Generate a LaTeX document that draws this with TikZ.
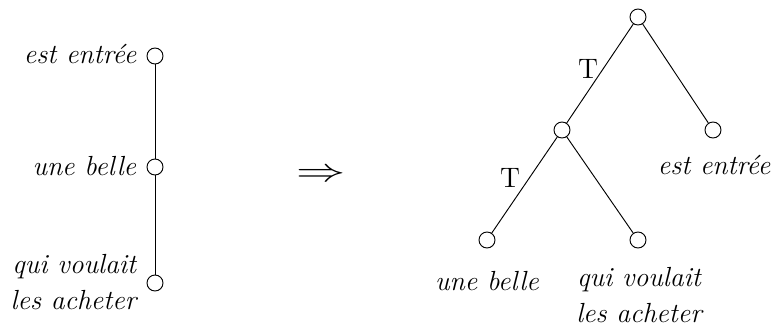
\documentclass[tikz,border=0pt]{standalone}
\usepackage{tikz}
\usetikzlibrary{positioning}

\begin{document}
\begin{tikzpicture}[x=0.015cm,y=-0.015cm]
\tikzstyle{V}=[draw,circle,fill=white,minimum size=0.24cm,inner sep=0pt]
\tikzstyle{W}=[font=\fontsize{11.8}{15.5}\selectfont\itshape,align=right,inner sep=1pt]
\tikzstyle{E}=[draw,thin]
\useasboundingbox (0,0) rectangle (771,326);
% chain on the left
\node[V] (a1) at (155,56) {};
\node[V] (a2) at (155,167) {};
\node[V] (a3) at (155,283) {};
\node[W,anchor=east] (w1) at (139,54) {est entrée};
\node[W,anchor=east] (w2) at (139,166) {une belle};
\node[W,anchor=east] (w3) at (139,282) {qui voulait\\les acheter};
\draw[E] (a1)--(a2); \draw[E] (a2)--(a3);
% arrow
\node (imp) at (321,175) {\scalebox{2.1}[1.4]{$\Rightarrow$}};
% tree on the right
\node[V] (r) at (638,17) {};
\node[V] (m) at (562,130) {};
\node[V] (e) at (713,130) {};
\node[V] (b) at (487,240) {};
\node[V] (q) at (638,240) {};
\node[W,align=center] (we) at (714,165) {est entrée};
\node[W,align=center] (wb) at (487,281) {une belle};
\node[W,align=center] (wq) at (639,295) {qui voulait\\les acheter};
\draw[E] (r)--(m); \draw[E] (r)--(e);
\draw[E] (m)--(b); \draw[E] (m)--(q);
\node[font=\large] (t1) at (588,69) {T};
\node[font=\large] (t2) at (510,178) {T};
\end{tikzpicture}
\end{document}
